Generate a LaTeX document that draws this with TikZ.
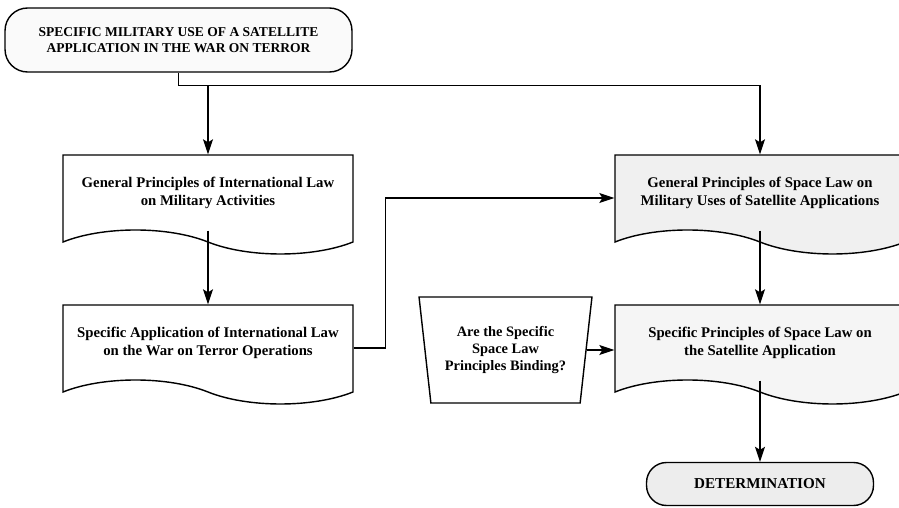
\documentclass[tikz,border=0pt]{standalone}
\usepackage{fontspec}
\setmainfont{Liberation Serif}
\usetikzlibrary{positioning}
\usetikzlibrary{shapes.symbols}
\usetikzlibrary{shapes.geometric}
\usetikzlibrary{arrows.meta}

\tikzset{
  termbox/.style={draw, line width=0.8pt, rounded corners=0.45cm, align=center, font=\fontsize{7.7}{9.1}\selectfont\bfseries},
  docbox/.style={draw, line width=0.8pt, tape, tape bend top=none, tape bend bottom=out and in, tape bend height=0.48cm, minimum width=5.8cm, minimum height=1.98cm, align=center, font=\fontsize{8.4}{10.2}\selectfont\bfseries},
  askbox/.style={draw, line width=0.8pt, trapezium, shape border rotate=180, trapezium left angle=80, trapezium right angle=80, trapezium stretches=true, minimum width=3.46cm, minimum height=2.12cm, align=center, font=\fontsize{8.2}{9.9}\selectfont\bfseries},
  flow/.style={-{Stealth[length=3mm, width=2mm, inset=0.6mm]}, line width=0.8pt},
}

\begin{document}
\begin{tikzpicture}[x=0.02cm, y=-0.02cm]
\useasboundingbox (0,0) rectangle (899,507);

\node(start)[termbox, fill=gray!4, minimum width=6.94cm, minimum height=1.28cm] at (178.5,40) {SPECIFIC MILITARY USE OF A SATELLITE\\APPLICATION IN THE WAR ON TERROR};

\node(geniL)[docbox, fill=white] at (208,192.5) {General Principles of International Law\\on Military Activities};
\node(specIL)[docbox, fill=white] at (208,342.5) {Specific Application of International Law\\on the War on Terror Operations};

\node(genSL)[docbox, fill=gray!12] at (760,192.5) {General Principles of Space Law on\\Military Uses of Satellite Applications};
\node(specSL)[docbox, fill=gray!8] at (760,342.5) {Specific Principles of Space Law on\\the Satellite Application};

\node(binding)[askbox] at (505.5,350) {Are the Specific\\Space Law\\Principles Binding?};

\node(determ)[termbox, fill=gray!14, font=\fontsize{8.6}{10}\selectfont\bfseries, rounded corners=0.4cm, minimum width=4.54cm, minimum height=0.86cm] at (760,484) {DETERMINATION};

\coordinate(split) at (geniL.north |- 0,85);

\draw[flow] (start.south) -- ++(0,13) -| (genSL.north);
\draw[flow] (split) -- (geniL.north);
\draw[flow] (geniL.south) -- (specIL.north);
\draw[flow] ([yshift=-0.11cm]specIL.east) -- ++(32,0) |- ([yshift=-0.11cm]genSL.west);
\draw[flow] (genSL.south) -- (specSL.north);
\draw[flow] (binding.east) -- (binding.east -| specSL.west);
\draw[flow] (specSL.south) -- (determ.north);
\end{tikzpicture}
\end{document}
